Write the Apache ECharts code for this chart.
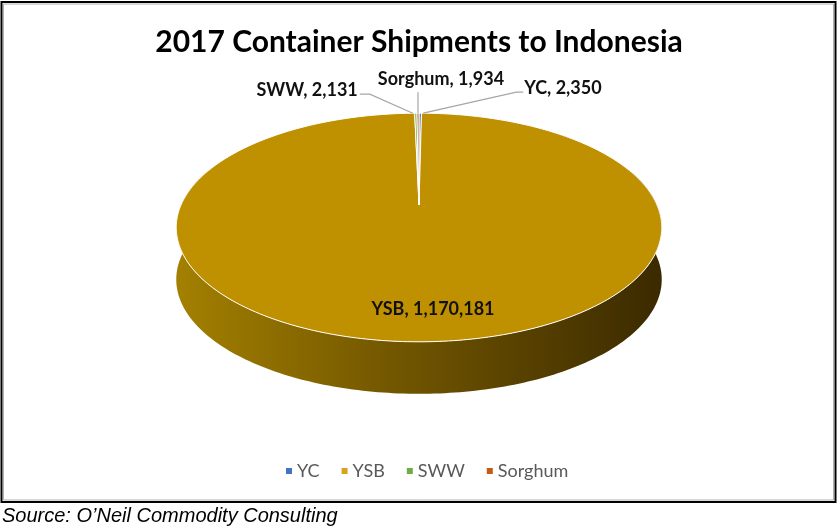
<!DOCTYPE html>
<html>
<head>
<meta charset="utf-8">
<script src="https://cdn.jsdelivr.net/npm/echarts@6/dist/echarts.min.js"></script>
<style>
html,body{margin:0;padding:0;background:#fff;}
#main{width:838px;height:529px;}
</style>
</head>
<body>
<div id="main"></div>
<script>
// ---- data ----
const categories = ['YC', 'YSB', 'SWW', 'Sorghum'];
const values = [2350, 1170181, 2131, 1934];
const titleText = '2017 Container Shipments to Indonesia';
const sourceText = 'Source: O\u2019Neil Commodity Consulting';

// ---- style / layout ----
const colors = ['#4472C4', '#BF9000', '#70AD47', '#C55A11'];
const legendColors = ['#4472C4', '#D9A21B', '#70AD47', '#C55A11'];
const FONT = 'Lato, "Open Sans", sans-serif';
// 3D projection parameters
const P = { cx: 419, cy: 205, s: 238, D: 4.51, elev: 27.5, thick: 52 };
const sa = Math.sin(P.elev * Math.PI / 180), ca = Math.cos(P.elev * Math.PI / 180);
function proj(thDeg, r) {
  const t = thDeg * Math.PI / 180;
  const X = r * Math.sin(t), Y = r * Math.cos(t);
  const yc = Y * sa, d = P.D + Y * ca;
  return [P.cx + P.s * X * P.D / d, P.cy - P.s * yc * P.D / d];
}
// label layout per slice: anchor radius, text offset, align, leader polyline offsets
const labelLayout = [
  { r: 1, dx: 104, dy: -25, align: 'left', leader: [[103, -21], [96, -21], [3, 0]] },
  { r: 0.8, dx: 13, dy: 0, align: 'center', leader: null },
  { r: 1, dx: -58, dy: -23, align: 'right', leader: [[-56, -19], [-46, -19], [-3, 0]] },
  { r: 1, dx: 23, dy: -34, align: 'center', leader: [[0, -21], [0, 0]] }
];

const total = values.reduce((a, b) => a + b, 0);

function makeRender(i) {
  return function (params, api) {
    const v = api.value(0);
    let before = 0;
    for (let k = 0; k < i; k++) before += values[k];
    const start = before / total * 360;
    const end = start + v / total * 360;
    const children = [];
    const n = Math.max(2, Math.ceil((end - start) / 1));
    // side wall (front visible part)
    const a = Math.max(start, 70), b = Math.min(end, 290);
    if (b > a) {
      const m = Math.ceil(b - a);
      const topArc = [], botArc = [];
      for (let k = 0; k <= m; k++) {
        const th = a + (b - a) * k / m;
        const p = proj(th, 1);
        topArc.push(p);
        botArc.push([p[0], p[1] + P.thick]);
      }
      const left = proj(262, 1)[0], right = proj(98, 1)[0];
      children.push({
        type: 'polygon', z2: 0,
        shape: { points: topArc.concat(botArc.reverse()) },
        style: {
          fill: {
            type: 'linear', x: left, y: 0, x2: right, y2: 0, global: true,
            colorStops: [
              { offset: 0, color: '#A38000' },
              { offset: 0.45, color: '#725600' },
              { offset: 1, color: '#3B2A00' }
            ]
          }
        }
      });
    }
    // top face
    const pts = [proj(0, 0)];
    for (let k = 0; k <= n; k++) pts.push(proj(start + (end - start) * k / n, 1));
    children.push({
      type: 'polygon', z2: 10,
      shape: { points: pts },
      style: { fill: colors[i], stroke: '#ffffff', lineWidth: 1, lineJoin: 'round' }
    });
    // label
    const L = labelLayout[i];
    const mid = (start + end) / 2;
    const anc = proj(mid, L.r);
    if (L.leader) {
      children.push({
        type: 'polyline', z2: 20,
        shape: { points: L.leader.map(o => [anc[0] + o[0], anc[1] + o[1]]) },
        style: { stroke: '#A6A6A6', lineWidth: 1.2, fill: null }
      });
    }
    children.push({
      type: 'text', z2: 30,
      x: anc[0] + L.dx, y: anc[1] + L.dy,
      style: {
        text: categories[i] + ', ' + v.toLocaleString('en-US'),
        fill: '#111111', font: 'bold 18px ' + FONT,
        align: L.align, verticalAlign: 'middle'
      }
    });
    return { type: 'group', children: children };
  };
}

const chart = echarts.init(document.getElementById('main'));
chart.setOption({
  animation: false,
  title: {
    text: titleText, left: 'center', top: 22,
    textStyle: { fontFamily: FONT, fontSize: 30, fontWeight: 'bold', color: '#000' }
  },
  legend: {
    data: categories.map((c, i) => ({ name: c, itemStyle: { color: legendColors[i] } })),
    top: 457, left: 281, icon: 'rect', itemWidth: 6, itemHeight: 6, itemGap: 22,
    textStyle: { fontFamily: FONT, fontSize: 18, color: '#595959' }
  },
  graphic: [
    { type: 'rect', shape: { x: 1.5, y: 2, width: 834, height: 500 },
      style: { fill: null, stroke: '#000', lineWidth: 2 }, silent: true },
    { type: 'rect', shape: { x: 3.5, y: 4, width: 830, height: 496 },
      style: { fill: null, stroke: '#B0B0B0', lineWidth: 1 }, silent: true },
    { type: 'text', x: 2, y: 506,
      style: { text: sourceText, font: 'italic 20px "Liberation Sans", Arial, sans-serif', fill: '#000' } }
  ],
  series: categories.map((c, i) => ({
    type: 'custom', name: c, coordinateSystem: 'none',
    itemStyle: { color: legendColors[i] },
    data: [values[i]],
    renderItem: makeRender(i)
  }))
});
</script>
</body>
</html>
